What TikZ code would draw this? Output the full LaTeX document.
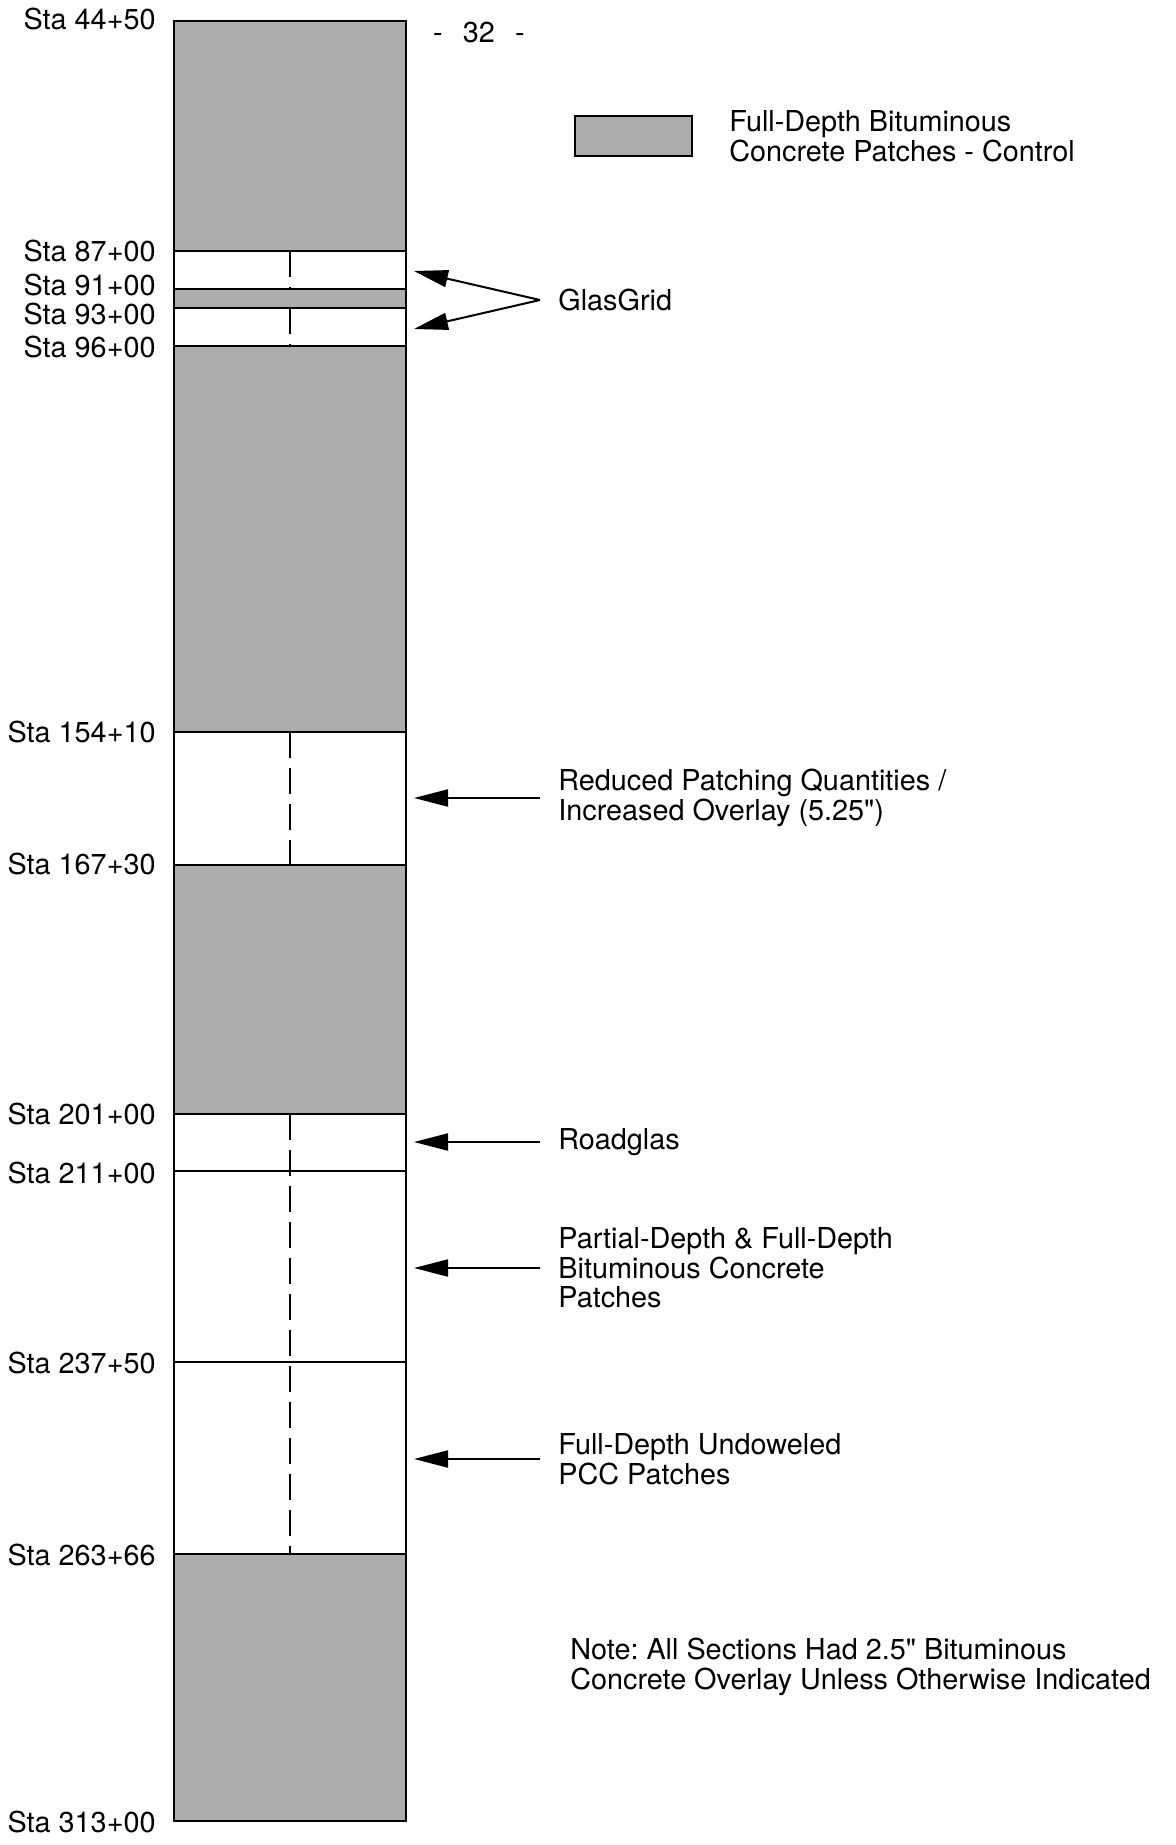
\documentclass[tikz,border=0pt]{standalone}
\usepackage{fontspec}
\setmainfont{TeX Gyre Heros}[Ligatures=TeXOff]
\usetikzlibrary{arrows.meta}
\frenchspacing

\begin{document}
\begin{tikzpicture}[x=0.5pt, y=-0.5pt,
	patch/.style={fill=black!32},
	sta/.style={anchor=east, inner sep=0pt, font=\fontsize{14.4}{14.8}\selectfont},
	lbl/.style={anchor=west, inner xsep=9pt, inner ysep=0pt, align=left, font=\fontsize{14.4}{14.8}\selectfont},
	pointer/.style={line width=1pt, -{Triangle[length=17pt, width=8.5pt]}},
	cut/.style={line width=1pt},
	axle/.style={line width=1pt, dash pattern=on 13pt off 5pt}]
	\def\colL{174};
	\def\colR{406};
	\def\colM{290};
	\def\tipx{414};
	\useasboundingbox (0,0) rectangle (1175,1845);
	\foreach \a/\b in {21/251, 289/308, 346/732, 865/1114, 1554/1821}
		\fill[patch] (\colL,\a) rectangle (\colR,\b);
	\foreach \a/\b in {251/289, 308/346, 732/865, 1114/1554}
		\draw[axle] (\colM,\a) -- (\colM,\b);
	\foreach \y in {251, 289, 308, 346, 732, 865, 1114, 1171, 1362, 1554}
		\draw[cut] (\colL,\y) -- (\colR,\y);
	\draw[line width=1.2pt] (\colL,21) rectangle (\colR,1821);
	\foreach \y/\t [count=\i] in {19/44+50, 251/87+00, 285/91+00, 314/93+00, 347/96+00, 732/154+10, 864/167+30, 1114/201+00, 1173/211+00, 1363/237+50, 1555/263+66, 1822/313+00}
		\node[sta] (sta\i) at (156,\y) {Sta \t};
	\node[font=\fontsize{14.4}{14.8}\selectfont] (page) at (479,33) {-\hspace{0.7em}32\hspace{0.7em}-};
	\node[patch, draw, line width=1pt, minimum width=58.5pt, minimum height=20pt, inner sep=0pt] (key) at (633.5,136) {};
	\node[lbl, inner xsep=0pt] (keytext) at (729,136) {Full-Depth Bituminous\\Concrete Patches - Control};
	\node[lbl] (glas) at (540,300) {GlasGrid};
	\coordinate (glasA) at (\tipx,271);
	\coordinate (glasB) at (\tipx,329);
	\draw[pointer] (glas.west) -- (glasA);
	\draw[pointer] (glas.west) -- (glasB);
	\node[lbl] (reduced) at (540,798) {Reduced Patching Quantities /\\Increased Overlay (5.25")};
	\coordinate (reducedtip) at (\tipx,798);
	\draw[pointer] (reduced.west) -- (reducedtip);
	\node[lbl] (roadglas) at (540,1142) {Roadglas};
	\coordinate (roadglastip) at (\tipx,1142);
	\draw[pointer] (roadglas.west) -- (roadglastip);
	\node[lbl] (partial) at (540,1268) {Partial-Depth \& Full-Depth\\Bituminous Concrete\\Patches};
	\coordinate (partialtip) at (\tipx,1268);
	\draw[pointer] (partial.west) -- (partialtip);
	\node[lbl] (pcc) at (540,1459) {Full-Depth Undoweled\\PCC Patches};
	\coordinate (pcctip) at (\tipx,1459);
	\draw[pointer] (pcc.west) -- (pcctip);
	\node[lbl, inner xsep=0pt] (note) at (570,1667) {Note: All Sections Had 2.5" Bituminous\\Concrete Overlay Unless Otherwise Indicated};
\end{tikzpicture}
\end{document}
